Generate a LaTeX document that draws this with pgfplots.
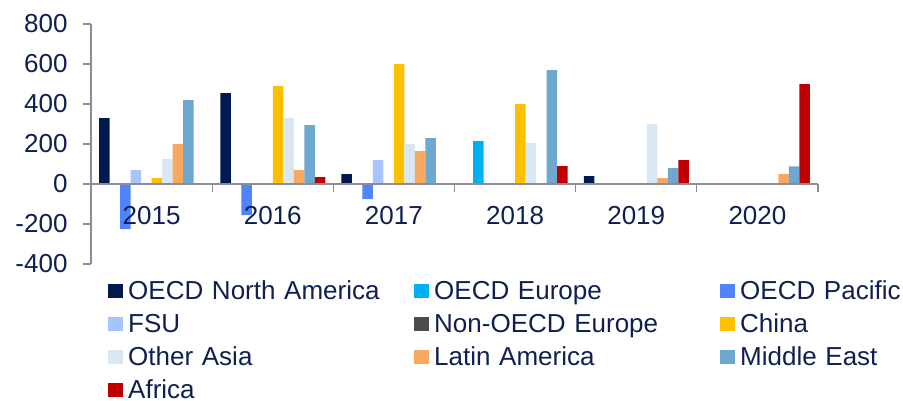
\documentclass[border=0pt]{standalone}
\usepackage{fontspec}
\setmainfont{Liberation Sans}
\usepackage{pgfplots}
\pgfplotsset{compat=1.18}
\usepackage{pgfplotstable}

\definecolor{cNA}{HTML}{001A50}
\definecolor{cEU}{HTML}{00B0F0}
\definecolor{cPAC}{HTML}{5084FF}
\definecolor{cFSU}{HTML}{A8C4FF}
\definecolor{cNOE}{HTML}{4D4D4D}
\definecolor{cCHN}{HTML}{FFC000}
\definecolor{cOA}{HTML}{D9E7F2}
\definecolor{cLAT}{HTML}{F8A861}
\definecolor{cME}{HTML}{6FA8CE}
\definecolor{cAF}{HTML}{C00000}
\definecolor{textnavy}{HTML}{0F2050}
\definecolor{axisgray}{HTML}{8C8C98}

\newcommand\chartfont{\fontsize{26bp}{31bp}\selectfont}

\pgfplotstableread{
x NA EU PAC FSU NOE CHN OA LAT ME AF
0 330 0 -225 70 0 30 125 200 420 0
1 455 0 -155 0 0 490 330 70 295 35
2 50 0 -75 120 0 600 200 165 230 0
3 0 215 0 0 0 400 205 0 570 90
4 40 0 0 0 0 0 300 30 80 120
5 0 0 0 0 0 0 0 50 88 500
}\datatable

\pgfplotsset{sqbar/.style={fill=#1, draw=none,
  legend image code/.code={\fill[#1] (0bp,-7bp) rectangle (15bp,7bp);}}}

\begin{document}
\begin{tikzpicture}
\useasboundingbox (0,0) rectangle (903bp,401bp);
\begin{axis}[
  at={(91bp,137bp)}, anchor=south west,
  scale only axis, width=727bp, height=240bp,
  xmin=-0.5, xmax=5.5, ymin=-400, ymax=800,
  ytick={-400,-200,...,800},
  xtick={0,...,5}, xticklabels={2015,2016,2017,2018,2019,2020},
  minor xtick={-0.5,0.5,...,5.5},
  axis y line*=left, axis x line*=middle,
  axis line style={draw=axisgray, line width=1.2bp},
  major x tick style={draw=none},
  minor x tick style={draw=axisgray, line width=1.2bp},
  ytick style={draw=axisgray, line width=1.2bp},
  tick align=outside,
  major tick length=8bp, minor tick length=8bp,
  ticklabel style={font=\chartfont, text=textnavy},
  xticklabel style={yshift=-11bp},
  yticklabel style={xshift=-12bp},
  /pgf/number format/assume math mode=true,
  ybar=0pt, bar width=10.5bp,
  axis on top,
  legend columns=3,
  legend cell align=left,
  legend style={at={(0.0234,-0.071)}, anchor=north west, draw=none, fill=none,
    inner sep=0pt, font=\chartfont, text=textnavy, row sep=14bp,
    nodes={inner sep=0pt, text height=18bp, text depth=1bp},
    /tikz/every odd column/.append style={column sep=5bp},
    /tikz/every even column/.append style={text width=266bp, column sep=20bp}},
]
\addplot[sqbar=cNA] table[x=x,y=NA]{\datatable};
\addplot[sqbar=cEU] table[x=x,y=EU]{\datatable};
\addplot[sqbar=cPAC] table[x=x,y=PAC]{\datatable};
\addplot[sqbar=cFSU] table[x=x,y=FSU]{\datatable};
\addplot[sqbar=cNOE] table[x=x,y=NOE]{\datatable};
\addplot[sqbar=cCHN] table[x=x,y=CHN]{\datatable};
\addplot[sqbar=cOA] table[x=x,y=OA]{\datatable};
\addplot[sqbar=cLAT] table[x=x,y=LAT]{\datatable};
\addplot[sqbar=cME] table[x=x,y=ME]{\datatable};
\addplot[sqbar=cAF] table[x=x,y=AF]{\datatable};
\legend{OECD North America, OECD Europe, OECD Pacific, FSU, Non-OECD Europe, China, Other Asia, Latin America, Middle East, Africa}
\end{axis}
\end{tikzpicture}
\end{document}
